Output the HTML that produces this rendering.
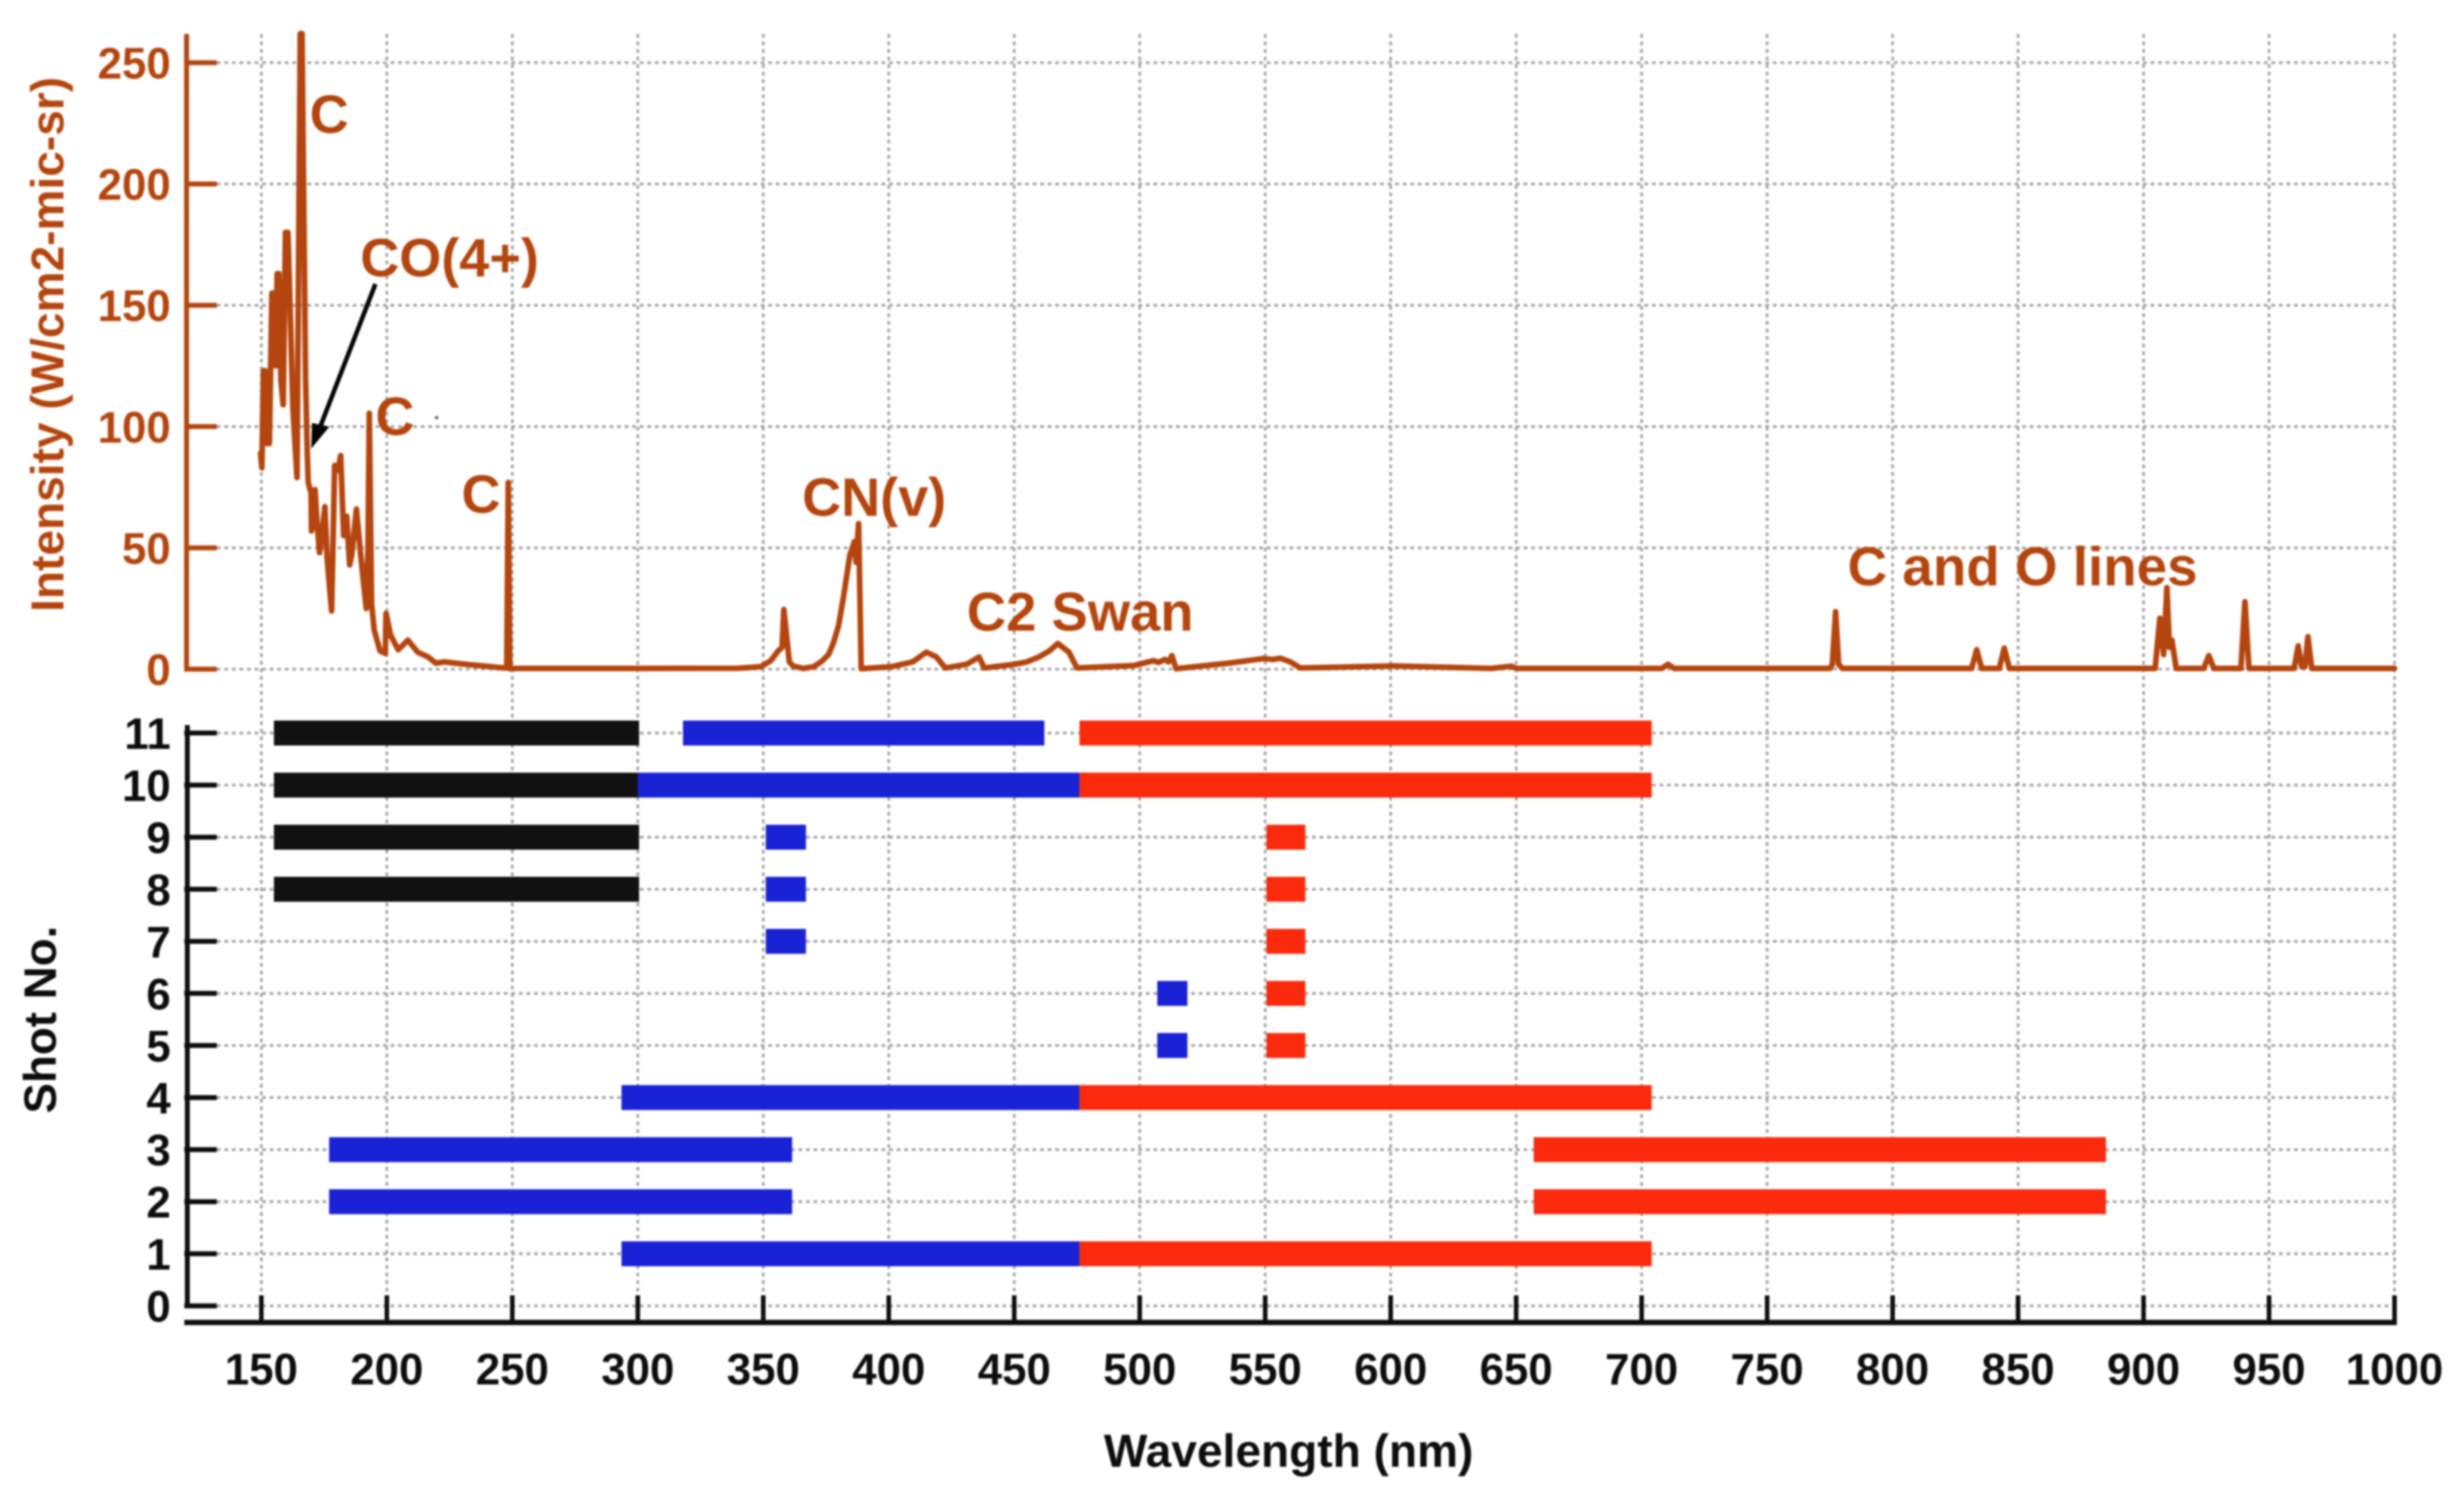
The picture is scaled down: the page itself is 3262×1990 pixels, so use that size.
<!DOCTYPE html>
<html lang="en">
<head>
<meta charset="utf-8">
<title>Spectrum and shot coverage</title>
<style>
html,body{margin:0;padding:0;background:#fff;width:3262px;height:1990px;overflow:hidden}
svg{display:block;filter:blur(1.2px)}
text{font-family:"Liberation Sans",sans-serif;font-weight:700}
.brown{fill:#b4450e}
.black{fill:#0d0d0d}
</style>
</head>
<body>
<svg id="chart" xmlns="http://www.w3.org/2000/svg" width="3262" height="1990" viewBox="0 0 3262 1990">
  <rect x="0" y="0" width="3262" height="1990" fill="#ffffff"/>
  <g id="grid"></g>
  <g id="bars"></g>
  <g id="spectrum"></g>
  <g id="axes"></g>

  <text class="brown" font-size="61" text-anchor="middle" transform="translate(84 456) rotate(-90)">Intensity (W/cm2-mic-sr)</text>
  <text class="black" font-size="60.5" text-anchor="middle" transform="translate(74 1350) rotate(-90)">Shot No.</text>
  <text class="black" font-size="61" text-anchor="middle" x="1706" y="1942">Wavelength (nm)</text>

  <text class="brown" font-size="71.5" x="410" y="176">C</text>
  <text class="brown" font-size="71.5" x="477" y="366">CO(4+)</text>
  <text class="brown" font-size="71.5" x="497" y="576">C</text>
  <text class="brown" font-size="71.5" x="611" y="679">C</text>
  <text class="brown" font-size="71.5" x="1062" y="683">CN(v)</text>
  <text class="brown" font-size="72" x="1280" y="835">C2 Swan</text>
  <text class="brown" font-size="72.5" x="2446" y="775">C and O lines</text>

  <g>
    <line x1="497" y1="376" x2="422" y2="570" stroke="#050505" stroke-width="6"/>
    <polygon points="412,594 413,560 436,565" fill="#050505"/>
  </g>
  <circle cx="578" cy="553" r="2.5" fill="#777"/>
</svg>
<script>
// Category / tick arrays
const xTicks = [150,200,250,300,350,400,450,500,550,600,650,700,750,800,850,900,950,1000];
const intensityTicks = [0,50,100,150,200,250];
const shotTicks = [0,1,2,3,4,5,6,7,8,9,10,11];

// Spectrum series: wavelength (nm) and intensity (W/cm2-mic-sr)
const wavelengths = [149.7,150.2,150.8,151.6,152.3,153.2,154.2,155.2,155.8,156.3,157,157.8,158.7,159.6,160.6,161.6,162.6,164.2,165.5,166.2,167.6,168.3,168.7,169.4,169.8,170,170.6,171.4,172.2,173.2,174.2,175.3,176.2,178,179.2,180.5,181.6,182.8,184,185.2,186,187.9,189.5,191.8,192.5,193,193.9,195,197.3,199.4,199.7,201.5,204.5,206.5,208.4,212.3,216.5,219.5,223,231.6,246.6,247.8,248.4,249,252,300,340,349,353,355.9,357.5,358.2,360.4,362,366,370,373,376,378,380,382,384.5,386.3,387,388,389,401,409.5,415,419,422.5,431,436,438,450,455,459.8,464,467.4,471.8,475,497.7,505.5,507.5,510,511.5,512.8,514.5,535.6,549.5,553,556,560,564,601.4,640,648,650,660,708,710.5,713,775,776,777.3,778.5,780,831.5,833.5,835.5,842.5,844.5,846.5,904.6,906.5,908,909.3,910.3,911.3,913,924,926,928,938.8,940.4,942,960,961.6,963,964.3,965.5,967,1000];
const intensities = [89,83,123,123,93,93,155,155,125,163,163,119,109,180,180,144,107,79,262,262,120,89,77,74,74,57,60,74,60,48,56,67,46,24,84,82,88,55,63,43,47,66,48,25,50,105.5,27,16,7.5,6.5,23,14,8,10,12,7,5,2.5,3,2,0.5,0.5,77,0.2,0.3,0.3,0.4,1,3.5,7.5,9,24.6,3,1.2,0.3,1,3,6,11,18,30,47,52.6,44,60,0.2,1,3,7,5,0.5,2,5,0.5,2,3,5,7.5,10.6,7,0.5,1.5,3.5,2.8,4,3,5.6,0.2,2.5,4.4,4,4.5,3,0.5,1.3,0.3,1.2,0.3,0.3,0.3,2,0.3,0.3,2,23.7,2,0.3,0.3,8,0.3,0.3,8.7,0.3,0.3,21,6,33.6,9,12,0.3,0.3,5.6,0.3,0.3,27.8,0.3,0.3,9.6,1,1,13.4,0.3,0.3];

// Shot coverage bars
const barShots  = [11,11,11,10,10,10,9,9,9,8,8,8,7,7,6,6,5,5,4,4,3,3,2,2,1,1];
const barStarts = [155,318,476,155,300,476,155,351,550.5,155,351,550.5,351,550.5,507,550.5,507,550.5,293.5,476,177,657,177,657,293.5,476];
const barEnds   = [300.5,462,704,300.5,476,704,300.5,367,566,300.5,367,566,367,566,519,566,519,566,476,704,361.5,885,361.5,885,476,704];
const barBands  = ['black','blue','red','black','blue','red','black','blue','red','black','blue','red','blue','red','blue','red','blue','red','blue','red','blue','red','blue','red','blue','red'];

// Axis functions
const xScale = nm => 346 + (nm - 150) * 3.3224;
const yIntensity = v => 886 - v * 3.212;
const yShot = s => 1729 - s * 68.95;

const NS = 'http://www.w3.org/2000/svg';
const BROWN = '#b4450e';
const INK = '#0d0d0d';
const bandColors = {black:'#111111', blue:'#1a22d6', red:'#fb2a0c'};
const gridG = document.getElementById('grid');
const barsG = document.getElementById('bars');
const specG = document.getElementById('spectrum');
const axesG = document.getElementById('axes');

function mk(tag, parent, attrs) {
  const el = document.createElementNS(NS, tag);
  for (const k in attrs) el.setAttribute(k, attrs[k]);
  parent.appendChild(el);
  return el;
}
const gridStyle = {stroke:'#a6a6a6','stroke-width':3.6,'stroke-dasharray':'5 5'};

xTicks.forEach(t => {
  const g = mk('line', gridG, Object.assign({x1:xScale(t),x2:xScale(t),y1:45,y2:1716}, gridStyle));
  
  
  const tick = mk('line', axesG, {x1:xScale(t),x2:xScale(t),y1:1715,y2:1751,stroke:INK,'stroke-width':6});
  
  
  const lab = mk('text', axesG, {x:xScale(t),y:1833,'text-anchor':'middle','font-size':58,class:'black'});
  
  
  lab.textContent = t;
});

intensityTicks.forEach(v => {
  const g = mk('line', gridG, Object.assign({x1:287,x2:xScale(1000),y1:yIntensity(v),y2:yIntensity(v)}, gridStyle));
  
  
  const tick = mk('line', axesG, {x1:244,x2:287,y1:yIntensity(v),y2:yIntensity(v),stroke:BROWN,'stroke-width':6.5});
  
  
  const lab = mk('text', axesG, {x:226,y:yIntensity(v)+21,'text-anchor':'end','font-size':58,class:'brown'});
  
  
  lab.textContent = v;
});

shotTicks.forEach(s => {
  const g = mk('line', gridG, Object.assign({x1:287,x2:xScale(1000),y1:yShot(s),y2:yShot(s)}, gridStyle));
  
  
  const tick = mk('line', axesG, {x1:244,x2:287,y1:yShot(s),y2:yShot(s),stroke:INK,'stroke-width':6.5});
  
  
  const lab = mk('text', axesG, {x:226,y:yShot(s)+21,'text-anchor':'end','font-size':58,class:'black'});
  
  
  lab.textContent = s;
});

barShots.forEach((s, i) => {
  const r = mk('rect', barsG, {x:xScale(barStarts[i]),y:yShot(s)-16.5,width:xScale(barEnds[i])-xScale(barStarts[i]),height:33,fill:bandColors[barBands[i]]});
  
  
});

const pts = wavelengths.map((w, i) => xScale(w).toFixed(1) + ',' + yIntensity(intensities[i]).toFixed(1)).join(' ');
const line = mk('polyline', specG, {points:pts,fill:'none',stroke:BROWN,'stroke-width':7.5,'stroke-linejoin':'round','stroke-linecap':'round'});



const topSpine = mk('line', axesG, {x1:247,x2:247,y1:45,y2:889,stroke:BROWN,'stroke-width':6.5});


const lowSpine = mk('line', axesG, {x1:248,x2:248,y1:960,y2:1732,stroke:INK,'stroke-width':6.5});


const xAxis = mk('line', axesG, {x1:244,x2:xScale(1000)+3,y1:1751,y2:1751,stroke:INK,'stroke-width':7});


</script>
</body>
</html>
